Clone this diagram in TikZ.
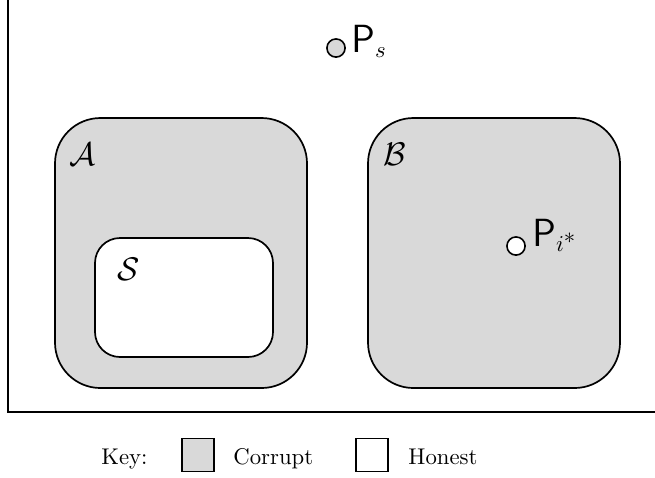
\documentclass[tikz,border=0pt]{standalone}
\usepackage{amsmath}
\usepackage{amssymb}
\usepackage{xcolor}
\definecolor{corrupt}{rgb}{0.85,0.85,0.85}

\tikzset{
  party/.style={draw, line width=0.7pt, minimum size=8pt, inner sep=0pt},
  keybox/.style={draw, line width=0.8pt, minimum width=14pt, minimum height=14.5pt, inner sep=0pt},
  lbl/.style={anchor=base west, inner sep=0pt}
}

\begin{document}
\begin{tikzpicture}[x=0.44pt,y=0.44pt,yscale=-1,xscale=1]
\clip (0,0) rectangle (655,477); %picture is 655 by 477

%Shape: Frame
\draw [line width=0.9pt] (8,-1) rectangle (700,412) ;
%Shape: Rounded Rectangle A
\draw [line width=0.75pt, fill=corrupt, rounded corners=20pt] (55,118) rectangle (307,388) ;
%Shape: Rounded Rectangle S
\draw [line width=0.75pt, fill=white, rounded corners=11pt] (95,238) rectangle (273,357) ;
%Shape: Rounded Rectangle B
\draw [line width=0.75pt, fill=corrupt, rounded corners=20pt] (368,118) rectangle (620,388) ;

%Shape: Circle Ps
\node (ps) [party, circle, fill=corrupt] at (336,48) {};
%Shape: Circle Pi
\node (pi) [party, circle, fill=white] at (516,246) {};

% Text Node
\node (pslbl) [lbl] at (351,52) {\LARGE$\mathsf{P}_{\scriptscriptstyle s}$};
% Text Node
\node (pilbl) [lbl] at (532,246) {\LARGE$\mathsf{P}_{\scriptscriptstyle i^*}$};
% Text Node
\node (albl) [lbl] at (69,165) {\Large$\mathcal{A}$};
% Text Node
\node (blbl) [lbl] at (383,165) {\Large$\mathcal{B}$};
% Text Node
\node (slbl) [lbl] at (117,280) {\Large$\mathcal{S}$};

% Key
\node (key) [lbl] at (101,464) {Key:};
\node (kcor) [keybox, fill=corrupt] at (198,455) {};
\node (tcor) [lbl] at (233,464) {Corrupt};
\node (khon) [keybox, fill=white] at (372,455) {};
\node (thon) [lbl] at (408,464) {Honest};

\end{tikzpicture}
\end{document}
